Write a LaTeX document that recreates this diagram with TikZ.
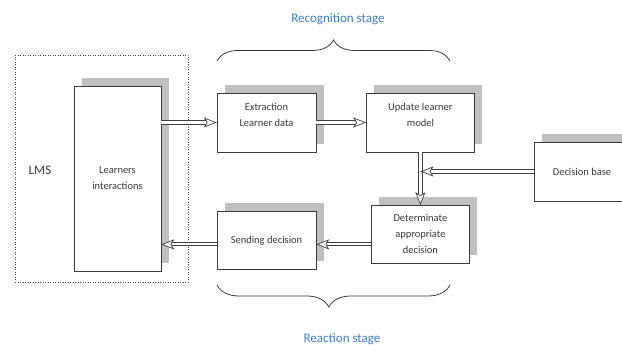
\documentclass[tikz,border=0pt]{standalone}
\usepackage{fontspec}
\setmainfont{Carlito}
\usepackage{xcolor}
\usepackage{tikz}
\usetikzlibrary{arrows.meta,positioning,calc,decorations.pathreplacing}
\definecolor{StageBlue}{HTML}{3B7FD4}
\definecolor{ShadeGray}{HTML}{C0C0C0}
\definecolor{EdgeDark}{HTML}{3A3A3A}
\definecolor{FlowGray}{HTML}{404040}

\begin{document}
\begin{tikzpicture}[
	x=1pt, y=1pt,
	node distance=50pt and 50pt,
	box/.style={draw=EdgeDark, fill=white, align=center, inner sep=2pt, text=EdgeDark,
		font=\fontsize{10.5}{16}\selectfont,
		preaction={fill=ShadeGray, transform canvas={shift={(8pt,8pt)}}}},
	flow/.style={draw=FlowGray, line width=1pt, double=white, double distance=2.2pt,
		-{Stealth[fill=white, length=13pt, width=10pt, inset=3pt, line width=0.7pt]}},
	stage/.style={text=StageBlue, font=\fontsize{13}{15}\selectfont},
	span/.style={draw=EdgeDark, line width=0.8pt, decorate, decoration={brace, amplitude=21pt}}
]
\useasboundingbox (0,0) rectangle (622,345);

% LMS side
\node[draw=FlowGray, dotted, line width=0.5pt, minimum width=173pt, minimum height=227pt] (lms) at (101.5,176.5) {};
\node[text=EdgeDark, font=\fontsize{13}{15}\selectfont] (lmstext) at (40,175) {LMS};
\node[box, minimum width=87pt, minimum height=185pt] (learn) at (117.5,166.5) {Learners\\interactions};

% processing boxes
\node[box, minimum width=99pt, minimum height=59pt] (extr) at (266.5,222.5) {Extraction\\Learner data\\\mbox{}};
\node[box, minimum width=108pt, minimum height=59pt, right=50pt of extr] (upd) {Update learner\\model\\\mbox{}};
\node[box, minimum width=98pt, minimum height=58pt, below=53pt of upd] (det) {Determinate\\appropriate\\decision};
\node[box, minimum width=99pt, minimum height=58pt, below=59pt of extr] (send) {Sending decision};
\begin{scope}
\clip (0,0) rectangle (622,345);
\node[box, minimum width=96pt, minimum height=59pt] (base) at (582,173.5) {Decision base};
\end{scope}

% stages
\node[stage, anchor=base] (recog) at (338,322) {Recognition stage};
\node[stage, anchor=base] (react) at (342,2) {Reaction stage};
\draw[span] (217,284) -- (450,284);
\draw[span, decoration={amplitude=22pt, aspect=0.52}] (450,60) -- (217,60);

% flows
\coordinate (join) at (upd.south |- base.west);
\coordinate (lowflow) at ([yshift=-4pt]send.east);
\draw[flow] (learn.east |- extr.west) -- (extr.west);
\draw[flow] (extr) -- (upd);
\draw[flow] (upd.south) -- (upd.south |- det.north);
\draw[flow] (base.west) -- (join);
\draw[flow] (det.west |- lowflow) -- (lowflow);
\draw[flow] (send.west |- lowflow) -- (lowflow -| learn.east);
\end{tikzpicture}
\end{document}
